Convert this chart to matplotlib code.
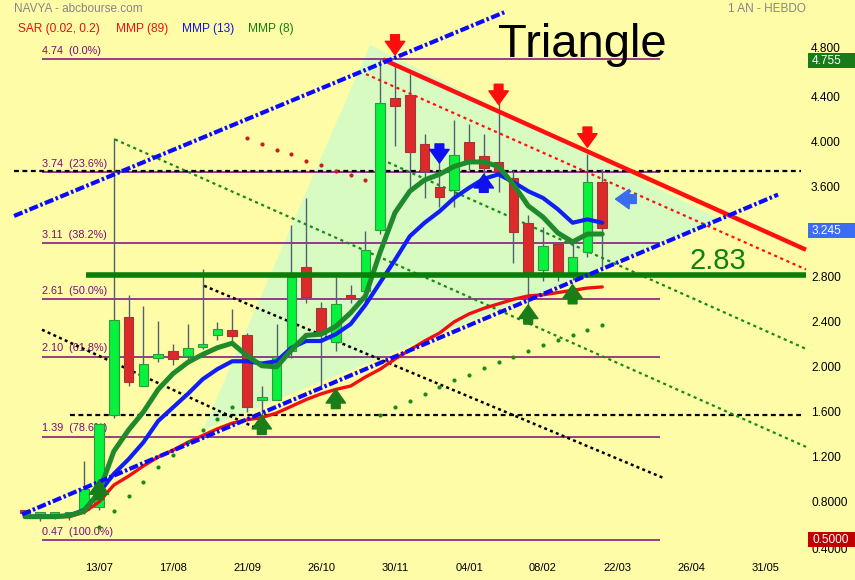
import matplotlib
matplotlib.use("Agg")
import matplotlib.pyplot as plt
from matplotlib.patches import Rectangle, Polygon
import matplotlib.transforms as mtransforms

# ---- datos (indice 0 = primera bougie semanal) ----
fechas = ['13/07', '17/08', '21/09', '26/10', '30/11', '04/01', '08/02', '22/03', '26/04', '31/05']
pos_fechas = [5, 10, 15, 20, 25, 30, 35, 40, 45, 50]

aperturas = [0.73, 0.70, 0.70, 0.70, 0.74, 0.77, 1.58, 2.45, 1.84, 2.09,
             2.15, 2.11, 2.19, 2.29, 2.34, 2.29, 1.72, 1.72, 2.15, 2.90,
             2.53, 2.23, 2.64, 2.68, 3.23, 4.40, 4.42, 3.99, 3.61, 3.58,
             4.01, 3.88, 3.83, 3.69, 3.29, 2.87, 3.10, 2.84, 3.03, 3.65]
maximos = [0.74, 0.71, 0.71, 0.71, 1.17, 1.50, 4.04, 2.65, 2.55, 2.42,
           2.21, 2.39, 2.88, 2.41, 2.52, 2.31, 1.84, 2.39, 3.27, 3.51,
           2.59, 2.81, 2.74, 3.22, 4.74, 4.70, 4.61, 4.08, 3.83, 4.20,
           4.17, 4.08, 4.38, 3.76, 3.36, 3.25, 3.10, 3.12, 3.90, 3.77]
minimos = [0.70, 0.64, 0.66, 0.65, 0.70, 0.74, 1.56, 1.84, 1.84, 2.05,
           2.03, 2.07, 2.17, 2.25, 2.24, 1.61, 1.55, 1.72, 2.09, 2.58,
           1.84, 2.15, 2.58, 2.55, 3.19, 3.97, 3.59, 3.51, 3.43, 3.43,
           3.76, 3.65, 3.56, 2.93, 2.55, 2.77, 2.77, 2.78, 2.99, 2.89]
cierres = [0.71, 0.70, 0.70, 0.70, 0.93, 1.50, 2.43, 1.88, 2.04, 2.12,
           2.08, 2.18, 2.20, 2.35, 2.28, 1.65, 1.73, 2.10, 2.81, 2.63,
           2.30, 2.57, 2.62, 3.05, 4.35, 4.33, 3.92, 3.75, 3.52, 3.89,
           3.84, 3.78, 3.75, 3.21, 2.85, 3.08, 2.85, 2.99, 3.65, 3.245]

mmp8 = [0.68, 0.68, 0.68, 0.69, 0.73, 0.90, 1.26, 1.45, 1.61, 1.81,
        1.95, 2.05, 2.12, 2.18, 2.22, 2.11, 2.02, 2.01, 2.16, 2.29,
        2.30, 2.37, 2.49, 2.64, 3.03, 3.38, 3.57, 3.67, 3.72, 3.79,
        3.83, 3.83, 3.79, 3.63, 3.44, 3.34, 3.20, 3.12, 3.19, 3.19]
mmp13 = [0.68, 0.68, 0.68, 0.69, 0.74, 0.89, 1.06, 1.19, 1.34, 1.53,
         1.65, 1.77, 1.90, 1.99, 2.06, 2.06, 2.04, 2.06, 2.18, 2.24,
         2.24, 2.30, 2.39, 2.56, 2.76, 2.96, 3.17, 3.29, 3.39, 3.51,
         3.60, 3.68, 3.72, 3.65, 3.57, 3.51, 3.41, 3.29, 3.32, 3.29]
mmp89 = [0.68, 0.68, 0.68, 0.68, 0.72, 0.81, 0.96, 1.04, 1.13, 1.21,
         1.27, 1.34, 1.40, 1.46, 1.51, 1.54, 1.56, 1.60, 1.66, 1.72,
         1.77, 1.81, 1.84, 1.92, 1.99, 2.08, 2.16, 2.24, 2.31, 2.41,
         2.48, 2.53, 2.57, 2.61, 2.64, 2.65, 2.67, 2.69, 2.71, 2.72]

# SAR (0.02, 0.2)
sar_alza_idx = [5, 6, 7, 8, 9, 10, 11, 12, 13, 14,
                24, 25, 26, 27, 28, 29, 30, 31, 32, 33, 34, 35, 36, 37, 38, 39]
sar_alza = [0.59, 0.73, 0.86, 0.99, 1.12, 1.23, 1.34, 1.45, 1.55, 1.65,
            1.58, 1.65, 1.71, 1.77, 1.83, 1.89, 1.94, 2.00, 2.05, 2.10, 2.15, 2.20, 2.25, 2.29, 2.34, 2.38]
sar_baja_idx = [15, 16, 17, 18, 19, 20, 21, 22, 23]
sar_baja = [4.04, 3.99, 3.94, 3.90, 3.84, 3.80, 3.75, 3.71, 3.67]

# Fibonacci
fib_niveles = [4.74, 3.74, 3.11, 2.61, 2.10, 1.39, 0.47]
fib_textos = ['4.74  (0.0%)', '3.74  (23.6%)', '3.11  (38.2%)', '2.61  (50.0%)',
              '2.10  (61.8%)', '1.39  (78.6%)', '0.47  (100.0%)']

# trazos (indice, valor)
resistencia = [(24.19, 4.74), (52.77, 3.05)]
resistencia_par = [(23.04, 4.61), (52.77, 2.875)]
canal_bajo = [(-0.2, 0.70), (50.88, 3.54)]
canal_alto = [(-0.74, 3.35), (32.4, 5.16)]
verde_punt_1 = [(6.08, 4.03), (52.77, 1.30)]
verde_punt_2 = [(24.12, 3.85), (52.77, 2.17)]
negro_punt_1 = [(1.15, 2.34), (16.4, 1.42)]
negro_punt_2 = [(12.1, 2.73), (43.2, 1.02)]
triangulo = [(12.03, 1.45), (23.31, 4.87), (46.96, 3.32)]
soporte = 2.83
horiz_negras = [3.75, 1.58]

# senales
flechas_rojas = [(25, 4.78), (32, 4.34), (38, 3.96)]
flechas_verdes = [(5, 1.00), (16, 1.58), (21, 1.81), (34, 2.56), (37, 2.74)]
flecha_azul_baja = (28, 3.82)
flecha_azul_alza = (31, 3.72)
flecha_azul_izq = (39.9, 3.50)

eje_valores = [4.8, 4.4, 4.0, 3.6, 2.8, 2.4, 2.0, 1.6, 1.2, 0.8, 0.4]
ultimo = 3.245
maximo_periodo = 4.755
minimo_periodo = 0.5

FONDO = '#fffca8'
plt.rcParams['font.family'] = ['Liberation Sans', 'DejaVu Sans']


def recta(ax, pts, **kw):
    ax.plot([p[0] for p in pts], [p[1] for p in pts], **kw)


def flecha(ax, x, y, dx, dy, color):
    ax.annotate('', xy=(x, y), xytext=(x + dx, y + dy),
                arrowprops=dict(arrowstyle='simple,head_length=0.7,head_width=1.0,tail_width=0.45',
                                color=color, mutation_scale=14, shrinkA=0, shrinkB=0),
                zorder=8)


def velas(ax):
    ancho = 0.66
    for i in range(len(cierres)):
        o, h, l, c = aperturas[i], maximos[i], minimos[i], cierres[i]
        ax.vlines(i, l, h, color='#4f6272', lw=1, zorder=3)
        if c >= o:
            fc, ec = '#06f23c', '#2f9a3f'
        else:
            fc, ec = '#da2a2a', '#a83535'
        alto = max(abs(c - o), 0.025)
        ax.add_patch(Rectangle((i - ancho / 2, min(o, c)), ancho, alto,
                               facecolor=fc, edgecolor=ec, lw=0.8, zorder=3.5))


def etiqueta_caja(ax, tr, v, color):
    # caja de color pegada al borde derecho
    txt = '%.3f' % v if v >= 1 else '%.4f' % v
    yc = v - 0.025
    ax.add_patch(Rectangle((808 / 855, yc - 0.068), 47 / 855, 0.136, transform=tr,
                           facecolor=color, edgecolor='none', zorder=10, clip_on=False))
    ax.text(812 / 855, yc, txt, transform=tr, fontsize=8.6, va='center', ha='left',
            color='white', zorder=11)


def dibujar():
    fig = plt.figure(figsize=(8.55, 5.8), dpi=100, facecolor=FONDO)
    ax = fig.add_axes([0, 0, 1, 1], facecolor=FONDO)
    ax.set_xlim(-1.689, 56.08)
    ax.set_ylim(0.1175, 5.268)
    ax.axis('off')

    # zona del triangulo
    ax.add_patch(Polygon(triangulo, closed=True, facecolor='#d8fbc2', edgecolor='none', zorder=1))

    # fibonacci
    for v, t in zip(fib_niveles, fib_textos):
        ax.hlines(v, 1.15, 42.9, color='#7a0a7a', lw=1.1, zorder=2)
        ax.text(1.15, v + 0.03, t, color='#7a0a7a', fontsize=7.8, va='bottom', zorder=2)

    for v in horiz_negras:
        x0 = -0.74 if v > 3 else 3.04
        ax.hlines(v, x0, 52.4, color='black', lw=1.6, linestyles=(0, (2.2, 1.6)), zorder=2)

    recta(ax, negro_punt_1, color='black', lw=1.8, ls=(0, (1.2, 1.3)), zorder=2)
    recta(ax, negro_punt_2, color='black', lw=1.8, ls=(0, (1.2, 1.3)), zorder=2)
    recta(ax, verde_punt_1, color='#178a17', lw=1.6, ls=(0, (1.4, 1.6)), zorder=2)
    recta(ax, verde_punt_2, color='#178a17', lw=1.6, ls=(0, (1.4, 1.6)), zorder=2)

    velas(ax)

    # medias moviles
    idx = list(range(len(cierres)))
    ax.plot(idx, mmp89, color='#f01010', lw=2.4, zorder=5, solid_capstyle='round')
    ax.plot(idx, mmp13, color='#1020f5', lw=3.0, zorder=5.2, solid_capstyle='round')
    ax.plot(idx, mmp8, color='#1f8a2c', lw=3.6, zorder=5.4, solid_capstyle='round')

    # sar
    ax.scatter(sar_alza_idx, sar_alza, s=9, color='#1a8c1a', zorder=5, linewidths=0)
    ax.scatter(sar_baja_idx, sar_baja, s=9, color='#c81e1e', zorder=5, linewidths=0)

    # soporte, resistencia y canal
    ax.hlines(soporte, 4.12, 52.77, color='#0a7d0a', lw=4, zorder=6)
    ax.text(44.9, soporte + 0.05, '2.83', color='#108010', fontsize=21, va='baseline', zorder=6)
    recta(ax, resistencia, color='#ff1010', lw=3.2, zorder=6, solid_capstyle='butt')
    recta(ax, resistencia_par, color='#ff1010', lw=1.6, ls=(0, (1.4, 1.6)), zorder=6)
    recta(ax, canal_bajo, color='#0a0aff', lw=3, ls=(0, (2.2, 0.6, 0.6, 0.6)), zorder=6)
    recta(ax, canal_alto, color='#0a0aff', lw=3, ls=(0, (2.2, 0.6, 0.6, 0.6)), zorder=6)

    # flechas
    for x, y in flechas_rojas:
        flecha(ax, x, y, 0, 0.18, '#ff0d0d')
    for x, y in flechas_verdes:
        flecha(ax, x, y, 0, -0.17, '#1a7d1a')
    flecha(ax, flecha_azul_baja[0], flecha_azul_baja[1], 0, 0.17, '#1010f0')
    flecha(ax, flecha_azul_alza[0], flecha_azul_alza[1], 0, -0.16, '#1010f0')
    flecha(ax, flecha_azul_izq[0], flecha_azul_izq[1], 1.4, 0, '#3a6cf0')

    # eje de precios a la derecha
    tr = mtransforms.blended_transform_factory(ax.transAxes, ax.transData)
    for v in eje_valores:
        txt = '%.3f' % v if v >= 1 else '%.4f' % v
        # 4.800 y 0.4000 quedan medio tapados por las cajas, como en el original
        dy = 0.03 if v == 4.8 else (-0.02 if v == 0.4 else 0)
        ax.text(811 / 855, v + dy, txt, transform=tr, fontsize=8.6, va='center', ha='left', zorder=9)
    etiqueta_caja(ax, tr, maximo_periodo, '#187a18')
    etiqueta_caja(ax, tr, ultimo, '#3d6cf5')
    etiqueta_caja(ax, tr, minimo_periodo, '#c00000')

    # eje de fechas
    trx = mtransforms.blended_transform_factory(ax.transData, ax.transAxes)
    for p, f in zip(pos_fechas, fechas):
        ax.text(p, 1 - 568 / 580, f, transform=trx, fontsize=8, ha='center', va='center')

    # textos
    fig.text(14 / 855, 1 - 9 / 580, 'NAVYA - abcbourse.com', color='#858585', fontsize=8.5, va='center')
    fig.text(806 / 855, 1 - 9 / 580, '1 AN - HEBDO', color='#858585', fontsize=8.5, va='center', ha='right')
    x = 18
    for t, c, w in [('SAR (0.02, 0.2)', '#e01010', 98), ('MMP (89)', '#f01010', 66),
                    ('MMP (13)', '#1010f0', 66), ('MMP (8)', '#108010', 0)]:
        fig.text(x / 855, 1 - 29 / 580, t, color=c, fontsize=8.6, va='center')
        x += w
    fig.text(498 / 855, 1 - 45 / 580, 'Triangle', color='black', fontsize=34, va='center')

    fig.savefig('out.png', dpi=100, facecolor=FONDO)


if __name__ == "__main__":
    dibujar()
